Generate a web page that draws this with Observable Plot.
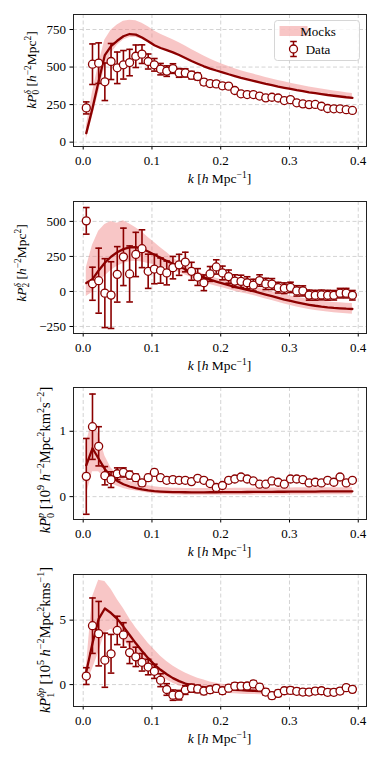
<!DOCTYPE html>
<html><head><meta charset="utf-8">
<script src="https://cdn.jsdelivr.net/npm/d3@7"></script>
<script src="https://cdn.jsdelivr.net/npm/@observablehq/plot@0.6"></script>
<style>
body{margin:0;background:#fff;}
#chart{position:relative;width:381px;height:761px;background:#fff;}
#chart svg{position:absolute;left:0;overflow:visible;}
</style></head><body><div id="chart"></div>
<script>
// ---------- data ----------
const kValues = [0.0045, 0.0135, 0.0225, 0.0315, 0.0405, 0.0495, 0.0585, 0.0675, 0.0765, 0.0855, 0.0945, 0.1035, 0.1125, 0.1215, 0.1305, 0.1395, 0.1485, 0.1575, 0.1665, 0.1755, 0.1845, 0.1935, 0.2025, 0.2115, 0.2205, 0.2295, 0.2385, 0.2475, 0.2565, 0.2655, 0.2745, 0.2835, 0.2925, 0.3015, 0.3105, 0.3195, 0.3285, 0.3375, 0.3465, 0.3555, 0.3645, 0.3735, 0.3825, 0.3915];
const xTicks = [0, 0.1, 0.2, 0.3, 0.4];

// Panel 1: kP0^delta
const p0Data = [228, 519, 526, 402, 537, 495, 515, 530, 572, 586, 537, 515, 486, 473, 490, 461, 461, 446, 437, 400, 390, 388, 375, 373, 344, 322, 317, 317, 307, 295, 299, 294, 277, 283, 262, 255, 250, 251, 239, 224, 222, 222, 216, 211];
const p0Err = [40, 135, 135, 125, 120, 105, 95, 88, 75, 62, 50, 42, 38, 35, 32, 29, 27, 25, 23, 21, 19, 18, 17, 16, 15, 14, 14, 13, 13, 12, 12, 12, 11, 11, 11, 10, 10, 10, 10, 9, 9, 9, 9, 9];
const p0Model = [60, 225, 406, 580, 640, 675, 705, 720, 716, 697, 672, 645, 627, 613, 598, 580, 560, 540, 522, 505, 490, 477, 465, 452, 440, 428, 418, 408, 398, 388, 379, 370, 362, 354, 346, 339, 332, 326, 320, 314, 309, 304, 299, 295];
const p0MockLo = [20, 170, 330, 500, 590, 645, 680, 697, 697, 685, 663, 638, 620, 606, 592, 574, 555, 535, 517, 500, 485, 472, 460, 447, 435, 423, 413, 403, 393, 383, 374, 365, 357, 349, 341, 334, 327, 321, 315, 309, 304, 299, 294, 290];
const p0MockHi = [105, 330, 520, 680, 745, 780, 805, 812, 808, 792, 768, 740, 718, 700, 682, 662, 640, 617, 595, 573, 553, 535, 518, 503, 489, 476, 464, 453, 442, 431, 421, 411, 402, 393, 384, 376, 368, 361, 354, 347, 341, 335, 329, 324];
const p0Ticks = [0, 250, 500, 750];

// Panel 2: kP2^delta
const p2Data = [504, 55, 77, -12, -26, 122, 247, 125, 264, 305, 144, 160, 149, 132, 170, 190, 210, 144, 103, 62, 125, 175, 132, 106, 74, 72, 62, 45, 78, 54, 53, 27, 23, 29, 4, 4, -26, -27, -25, -27, -27, -12, -12, -27];
const p2Err = [95, 118, 232, 246, 238, 198, 205, 200, 158, 135, 122, 105, 90, 85, 80, 75, 70, 64, 60, 56, 53, 51, 49, 47, 45, 44, 43, 42, 41, 40, 39, 38, 38, 37, 37, 36, 36, 35, 35, 35, 34, 34, 34, 34];
const p2Model = [60, 88, 150, 205, 248, 280, 302, 314, 316, 305, 285, 262, 240, 218, 198, 178, 158, 138, 118, 100, 84, 70, 57, 45, 33, 22, 12, 2, -10, -22, -34, -46, -58, -68, -78, -87, -95, -102, -108, -113, -117, -120, -123, -125];
const p2MockLo = [-36, -5, 60, 110, 150, 180, 200, 212, 215, 210, 200, 190, 178, 165, 150, 135, 118, 100, 82, 65, 50, 38, 26, 14, 2, -9, -19, -29, -41, -53, -65, -77, -89, -100, -110, -120, -129, -136, -142, -147, -152, -156, -159, -162];
const p2MockHi = [170, 330, 430, 478, 500, 487, 504, 482, 455, 425, 385, 350, 312, 278, 240, 210, 188, 165, 140, 122, 108, 94, 82, 72, 62, 52, 42, 32, 21, 10, -1, -12, -22, -32, -41, -49, -57, -63, -69, -74, -78, -81, -84, -86];
const p2Ticks = [-250, 0, 250, 500];

// Panel 3: kP0^p
const p3Data = [0.31, 1.07, 0.77, 0.32, 0.26, 0.35, 0.37, 0.33, 0.29, 0.21, 0.29, 0.37, 0.29, 0.25, 0.26, 0.25, 0.25, 0.23, 0.28, 0.25, 0.20, 0.14, 0.17, 0.25, 0.27, 0.30, 0.27, 0.24, 0.19, 0.19, 0.24, 0.22, 0.19, 0.27, 0.27, 0.26, 0.21, 0.22, 0.21, 0.25, 0.22, 0.30, 0.21, 0.25];
const p3Err = [0.58, 0.5, 0.3, 0.14, 0.12, 0.09, 0.07, 0.06, 0.055, 0.05, 0.048, 0.045, 0.043, 0.04, 0.038, 0.036, 0.035, 0.034, 0.033, 0.032, 0.031, 0.03, 0.03, 0.03, 0.03, 0.03, 0.03, 0.03, 0.03, 0.03, 0.03, 0.03, 0.03, 0.03, 0.03, 0.03, 0.03, 0.03, 0.03, 0.03, 0.03, 0.03, 0.03, 0.03];
const p3Model = [0.48, 0.74, 0.58, 0.42, 0.31, 0.24, 0.19, 0.155, 0.13, 0.11, 0.095, 0.085, 0.078, 0.073, 0.07, 0.068, 0.067, 0.066, 0.066, 0.066, 0.067, 0.067, 0.068, 0.069, 0.07, 0.07, 0.071, 0.072, 0.073, 0.073, 0.074, 0.075, 0.075, 0.076, 0.077, 0.077, 0.078, 0.078, 0.079, 0.079, 0.08, 0.08, 0.08, 0.081];
const p3MockLo = [0.02, 0.38, 0.38, 0.28, 0.2, 0.16, 0.125, 0.1, 0.085, 0.07, 0.055, 0.045, 0.037, 0.032, 0.028, 0.025, 0.023, 0.022, 0.021, 0.02, 0.02, 0.02, 0.021, 0.021, 0.022, 0.022, 0.023, 0.023, 0.024, 0.024, 0.025, 0.025, 0.025, 0.026, 0.026, 0.026, 0.027, 0.027, 0.027, 0.028, 0.028, 0.028, 0.028, 0.029];
const p3MockHi = [0.82, 1.18, 0.95, 0.62, 0.44, 0.34, 0.28, 0.235, 0.2, 0.18, 0.165, 0.15, 0.14, 0.135, 0.13, 0.127, 0.125, 0.124, 0.123, 0.123, 0.124, 0.124, 0.125, 0.126, 0.127, 0.127, 0.128, 0.129, 0.13, 0.13, 0.131, 0.132, 0.132, 0.133, 0.134, 0.134, 0.135, 0.135, 0.136, 0.136, 0.137, 0.137, 0.137, 0.138];
const p3Ticks = [0, 1];

// Panel 4: kP1^{delta p}  (model and mocks stop at k = 0.2655)
const p4Data = [0.66, 4.57, 3.95, 1.89, 2.39, 4.2, 3.85, 2.48, 2.15, 1.73, 1.36, 1.03, 0.34, -0.38, -0.82, -0.82, -0.42, -0.28, -0.34, -0.5, -0.4, -0.3, -0.48, -0.28, -0.12, -0.12, -0.11, 0.05, -0.2, -0.58, -0.86, -0.68, -0.48, -0.45, -0.52, -0.58, -0.58, -0.5, -0.48, -0.6, -0.6, -0.5, -0.24, -0.37];
const p4Err = [0.65, 2.15, 2.5, 2.1, 1.5, 1.1, 0.95, 0.85, 0.75, 0.68, 0.6, 0.55, 0.5, 0.45, 0.4, 0.37, 0.34, 0.31, 0.29, 0.27, 0.26, 0.25, 0.25, 0.25, 0.25, 0.25, 0.25, 0.25, 0.24, 0.24, 0.24, 0.24, 0.24, 0.24, 0.23, 0.23, 0.23, 0.23, 0.23, 0.23, 0.23, 0.23, 0.23, 0.23];
const p4Model = [1.0, 3.2, 5.1, 5.9, 5.55, 5.1, 4.5, 3.85, 3.2, 2.6, 2.05, 1.55, 1.15, 0.8, 0.5, 0.27, 0.08, -0.05, -0.14, -0.2, -0.26, -0.3, -0.34, -0.37, -0.4, -0.43, -0.46, -0.48, -0.5, -0.52];
const p4MockLo = [0.1, 1.2, 2.5, 4.0, 4.3, 4.0, 3.5, 2.9, 2.35, 1.85, 1.4, 1.0, 0.65, 0.35, 0.1, -0.1, -0.25, -0.38, -0.47, -0.54, -0.6, -0.64, -0.68, -0.7, -0.72, -0.74, -0.76, -0.77, -0.78, -0.79];
const p4MockHi = [1.3, 6.8, 8.1, 8.0, 7.4, 6.6, 5.9, 5.1, 4.4, 3.8, 3.2, 2.7, 2.2, 1.8, 1.45, 1.15, 0.9, 0.68, 0.5, 0.35, 0.2, 0.1, 0.02, -0.03, -0.07, -0.1, -0.12, -0.14, -0.16, -0.18];
const p4Ticks = [0, 5];

const legendLabels = ["Mocks", "Data"];

// ---------- styling ----------
const RED = "#8b0000";
const BAND = "#f08080";
const BAND_OP = 0.45;
const FONT = "'Liberation Serif', 'DejaVu Serif', serif";
const xDomain = [-0.0141, 0.412];
const cap = {draw(ctx, size) { const r = Math.sqrt(size / Math.PI); ctx.moveTo(-r, 0); ctx.lineTo(r, 0); }};
const gridStyle = {stroke: "#c8c8c8", strokeOpacity: 1, strokeWidth: 0.8, strokeDasharray: "4,2.5"};

function table(data, err, model, lo, hi) {
  return kValues.map((k, i) => ({k, d: data[i], e: err[i], m: model[i], lo: lo[i], hi: hi[i]}));
}

function panel(rows, yDomain, yTicks, h) {
  return Plot.plot({
    width: 381, height: h,
    marginLeft: 73, marginRight: 15, marginTop: 14, marginBottom: h - 146,
    style: {fontFamily: FONT, fontSize: "13px", background: "transparent", overflow: "visible", color: "black"},
    x: {domain: xDomain, ticks: xTicks, tickFormat: d3.format(".1f"), tickSize: 3.5, tickPadding: 6, label: null},
    y: {domain: yDomain, ticks: yTicks, tickFormat: d3.format("d"), tickSize: 3.5, tickPadding: 4, label: null},
    marks: [
      Plot.gridX(xTicks, gridStyle),
      Plot.gridY(yTicks, gridStyle),
      Plot.areaY(rows, {x: "k", y1: "lo", y2: "hi", fill: BAND, fillOpacity: BAND_OP}),
      Plot.line(rows, {x: "k", y: "m", stroke: RED, strokeWidth: 2.3}),
      Plot.ruleX(rows, {x: "k", y1: d => d.d - d.e, y2: d => d.d + d.e, stroke: RED, strokeWidth: 1.6}),
      Plot.dot(rows, {x: "k", y: d => d.d + d.e, symbol: cap, r: 3.3, stroke: RED, fill: "none", strokeWidth: 1.6}),
      Plot.dot(rows, {x: "k", y: d => d.d - d.e, symbol: cap, r: 3.3, stroke: RED, fill: "none", strokeWidth: 1.6}),
      Plot.dot(rows, {x: "k", y: "d", r: 4, fill: "white", stroke: RED, strokeWidth: 1.3}),
      Plot.frame({stroke: "#222", strokeWidth: 1})
    ]
  });
}

// rich text with sub/superscripts
function rich(text, parts, fs) {
  let cur = 0, pend = 0;
  const up = -fs * 0.4, down = fs * 0.25;
  for (const p of parts) {
    if (p.ss) {
      const a = text.append("tspan").attr("font-size", fs * 0.7).attr("dy", up - cur).text(p.ss[0]);
      if (pend) a.attr("dx", pend);
      if (p.itSup) a.attr("font-style", "italic");
      cur = up;
      const wa = a.node().getComputedTextLength();
      const b = text.append("tspan").attr("font-size", fs * 0.7).attr("dx", -wa).attr("dy", down - cur).text(p.ss[1]);
      cur = down;
      const wb = b.node().getComputedTextLength();
      pend = Math.max(0, wa - wb);
    } else {
      const target = p.sup ? up : p.sub ? down : 0;
      const s = text.append("tspan").attr("dy", target - cur).text(p.t);
      if (pend) s.attr("dx", pend);
      pend = 0;
      if (p.sup || p.sub) s.attr("font-size", fs * 0.7);
      if (p.it) s.attr("font-style", "italic");
      cur = target;
    }
  }
}

const xLabel = [{t: "k", it: 1}, {t: " ["}, {t: "h", it: 1}, {t: " Mpc"}, {t: "−1", sup: 1}, {t: "]"}];
const yLabels = [
  [{t: "kP", it: 1}, {ss: ["δ", "0"], itSup: 1}, {t: " ["}, {t: "h", it: 1}, {t: "−2", sup: 1}, {t: "Mpc"}, {t: "2", sup: 1}, {t: "]"}],
  [{t: "kP", it: 1}, {ss: ["δ", "2"], itSup: 1}, {t: " ["}, {t: "h", it: 1}, {t: "−2", sup: 1}, {t: "Mpc"}, {t: "2", sup: 1}, {t: "]"}],
  [{t: "kP", it: 1}, {ss: ["p", "0"], itSup: 1}, {t: " [10"}, {t: "9", sup: 1}, {t: " "}, {t: "h", it: 1}, {t: "−2", sup: 1}, {t: "Mpc"}, {t: "2", sup: 1}, {t: "km"}, {t: "2", sup: 1}, {t: "s"}, {t: "−2", sup: 1}, {t: "]"}],
  [{t: "kP", it: 1}, {ss: ["δp", "1"], itSup: 1}, {t: " [10"}, {t: "5", sup: 1}, {t: " "}, {t: "h", it: 1}, {t: "−2", sup: 1}, {t: "Mpc"}, {t: "2", sup: 1}, {t: "kms"}, {t: "−1", sup: 1}, {t: "]"}]
];

const panels = [
  {rows: table(p0Data, p0Err, p0Model, p0MockLo, p0MockHi), dom: [-29, 850], ticks: p0Ticks, top: 0, h: 187, lx: 36, ly: 70, fs: 13.5},
  {rows: table(p2Data, p2Err, p2Model, p2MockLo, p2MockHi), dom: [-300, 642], ticks: p2Ticks, top: 187, h: 187, lx: 26, ly: 76, fs: 13.5},
  {rows: table(p3Data, p3Err, p3Model, p3MockLo, p3MockHi), dom: [-0.35, 1.67], ticks: p3Ticks, top: 373, h: 187, lx: 50, ly: 87, fs: 14.5},
  {rows: table(p4Data, p4Err, p4Model, p4MockLo, p4MockHi), dom: [-1.7, 8.54], ticks: p4Ticks, top: 560, h: 201, lx: 50, ly: 80, fs: 14.5}
];

const chart = document.getElementById("chart");
panels.forEach((p, idx) => {
  const svg = panel(p.rows, p.dom, p.ticks, p.h);
  svg.style.top = p.top + "px";
  chart.appendChild(svg);
  const s = d3.select(svg);
  const fs = 13.5;
  // x label
  const xt = s.append("text").attr("x", 219.5).attr("y", 183).attr("text-anchor", "middle")
    .attr("font-size", fs).attr("font-family", FONT).attr("fill", "black");
  rich(xt, xLabel, fs);
  // y label
  const yt = s.append("text").attr("transform", `translate(${p.lx},${p.ly}) rotate(-90)`).attr("text-anchor", "middle")
    .attr("font-size", p.fs).attr("font-family", FONT).attr("fill", "black");
  rich(yt, yLabels[idx], p.fs);
  if (idx === 0) {
    const g = s.append("g");
    g.append("rect").attr("x", 274.5).attr("y", 20.5).attr("width", 85).attr("height", 40).attr("rx", 3)
      .attr("fill", "white").attr("fill-opacity", 0.8).attr("stroke", "#cccccc").attr("stroke-width", 0.8);
    g.append("rect").attr("x", 279.5).attr("y", 26).attr("width", 28).attr("height", 10).attr("fill", BAND).attr("fill-opacity", BAND_OP);
    g.append("text").attr("x", 318).attr("y", 35.5).attr("font-size", 13).attr("font-family", FONT).text(legendLabels[0]);
    g.append("line").attr("x1", 293.5).attr("x2", 293.5).attr("y1", 41.5).attr("y2", 56.5).attr("stroke", RED).attr("stroke-width", 1.5);
    g.append("line").attr("x1", 290.2).attr("x2", 296.8).attr("y1", 41.5).attr("y2", 41.5).attr("stroke", RED).attr("stroke-width", 1.5);
    g.append("line").attr("x1", 290.2).attr("x2", 296.8).attr("y1", 56.5).attr("y2", 56.5).attr("stroke", RED).attr("stroke-width", 1.5);
    g.append("circle").attr("cx", 293.5).attr("cy", 49).attr("r", 4).attr("fill", "white").attr("stroke", RED).attr("stroke-width", 1.3);
    g.append("text").attr("x", 318).attr("y", 54).attr("font-size", 13).attr("font-family", FONT).text(legendLabels[1]);
  }
});
</script>
</body></html>
